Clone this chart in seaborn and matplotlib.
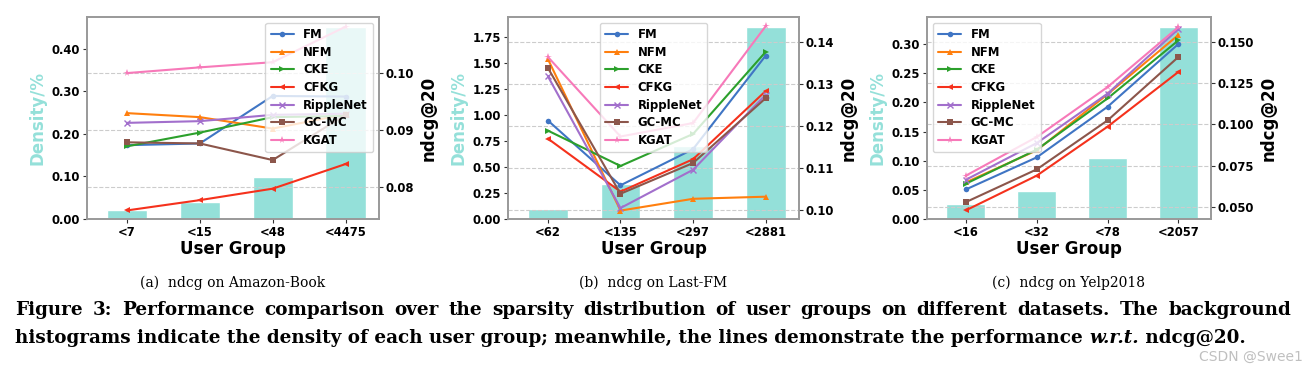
import numpy as np
import pandas as pd
import matplotlib
matplotlib.use("Agg")
import matplotlib.pyplot as plt
import seaborn as sns

# ---- data ----
models = ["FM", "NFM", "CKE", "CFKG", "RippleNet", "GC-MC", "KGAT"]

groups_amazon = ["<7", "<15", "<48", "<4475"]
density_amazon = [0.020, 0.040, 0.099, 0.452]
ndcg_amazon = {
    "FM": [0.0873, 0.0876, 0.0959, 0.0958],
    "NFM": [0.0929, 0.0922, 0.0902, 0.0927],
    "CKE": [0.0871, 0.0895, 0.0922, 0.0924],
    "CFKG": [0.0759, 0.0777, 0.0797, 0.0840],
    "RippleNet": [0.0912, 0.0915, 0.0926, 0.0928],
    "GC-MC": [0.0878, 0.0876, 0.0847, 0.0926],
    "KGAT": [0.0999, 0.1009, 0.1018, 0.1080],
}

groups_lastfm = ["<62", "<135", "<297", "<2881"]
density_lastfm = [0.096, 0.334, 0.700, 1.850]
ndcg_lastfm = {
    "FM": [0.1213, 0.1059, 0.1145, 0.1367],
    "NFM": [0.1359, 0.0999, 0.1027, 0.1032],
    "CKE": [0.1189, 0.1105, 0.1181, 0.1376],
    "CFKG": [0.1170, 0.1044, 0.1121, 0.1283],
    "RippleNet": [0.1318, 0.1005, 0.1096, 0.1274],
    "GC-MC": [0.1338, 0.1039, 0.1112, 0.1266],
    "KGAT": [0.1364, 0.1175, 0.1207, 0.1437],
}

groups_yelp = ["<16", "<32", "<78", "<2057"]
density_yelp = [0.026, 0.048, 0.1046, 0.329]
ndcg_yelp = {
    "FM": [0.0605, 0.0800, 0.1108, 0.1490],
    "NFM": [0.0648, 0.0843, 0.1184, 0.1545],
    "CKE": [0.0640, 0.0847, 0.1159, 0.1512],
    "CFKG": [0.0478, 0.0689, 0.0987, 0.1320],
    "RippleNet": [0.0664, 0.0887, 0.1188, 0.1581],
    "GC-MC": [0.0528, 0.0727, 0.1025, 0.1411],
    "KGAT": [0.0689, 0.0924, 0.1228, 0.1593],
}

colors = {"FM": "#3f75c4", "NFM": "#ff7f0e", "CKE": "#2ca02c", "CFKG": "#f5311c",
          "RippleNet": "#a26fcc", "GC-MC": "#8c564b", "KGAT": "#f779b9"}
markers = {"FM": "o", "NFM": "^", "CKE": ">", "CFKG": "<",
           "RippleNet": "x", "GC-MC": "s", "KGAT": "*"}
bar_color = "#94e0d9"
spine_color = "#999999"

sns.set_style("white")
plt.rcParams["font.family"] = ["DejaVu Sans"]
for key in ["text.color", "axes.labelcolor", "xtick.color", "ytick.color"]:
    plt.rcParams[key] = "black"

fig = plt.figure(figsize=(13.07, 3.66), dpi=100)

panels = [
    # groups, density, ndcg, x-extent, left ticks, left ylim, right ticks, right ylim, fmts, legend loc
    (groups_amazon, density_amazon, ndcg_amazon, [87, 379],
     np.arange(0, 0.41, 0.1), (0, 0.475), [0.08, 0.09, 0.10], (0.0744, 0.1097),
     "%.2f", "%.2f", "upper right"),
    (groups_lastfm, density_lastfm, ndcg_lastfm, [508, 799],
     np.arange(0, 1.76, 0.25), (0, 1.946), [0.10, 0.11, 0.12, 0.13, 0.14], (0.0979, 0.1459),
     "%.2f", "%.2f", "upper center"),
    (groups_yelp, density_yelp, ndcg_yelp, [927, 1211],
     np.arange(0, 0.31, 0.05), (0, 0.3463), [0.050, 0.075, 0.100, 0.125, 0.150], (0.0425, 0.1654),
     "%.2f", "%.3f", "upper left"),
]

W, H = 1307, 366
for groups, dens, ndcg, (x0, x1), lt, lyl, rt, ryl, lfmt, rfmt, loc in panels:
    ax = fig.add_axes([x0 / W, 1 - 219 / H, (x1 - x0) / W, 202 / H])
    sns.barplot(x=groups, y=dens, ax=ax, color=bar_color, width=0.55, saturation=1)
    ax.set_xlim(-0.55, 3.46)
    ax.set_ylim(*lyl)
    ax.set_yticks(lt)
    ax.yaxis.set_major_formatter(matplotlib.ticker.FormatStrFormatter(lfmt))
    ax.set_ylabel("Density/%", color=bar_color, fontsize=12, fontweight="bold", labelpad=4)
    ax.set_xlabel("User Group", fontsize=12, fontweight="bold", labelpad=1)

    ax2 = ax.twinx()
    pos = np.arange(len(groups))
    for m in models:
        sns.lineplot(x=pos, y=ndcg[m], ax=ax2, color=colors[m], marker=markers[m],
                     markersize=4 if markers[m] != "*" else 5.5,
                     markeredgewidth=1 if markers[m] == "x" else 0,
                     markeredgecolor=colors[m], linewidth=1.5, label=m)
    ax2.set_ylim(*ryl)
    ax2.set_yticks(rt)
    ax2.yaxis.set_major_formatter(matplotlib.ticker.FormatStrFormatter(rfmt))
    ax2.set_ylabel("ndcg@20", fontsize=12, fontweight="bold", labelpad=4)
    ax2.grid(axis="y", linestyle="--", color="#cccccc", linewidth=0.8)
    ax2.set_xlim(-0.55, 3.46)

    for a in (ax, ax2):
        for s in a.spines.values():
            s.set_color(spine_color)
            s.set_linewidth(1.2)
        a.tick_params(axis="both", labelsize=8.4, length=3, width=0.8, color="#333333", pad=2)
        for lab in a.get_xticklabels() + a.get_yticklabels():
            lab.set_fontweight("bold")
    ax.tick_params(axis="y", left=True)
    ax.tick_params(axis="x", bottom=True)

    leg = ax2.legend(loc=loc, prop={"weight": "bold", "size": 8.4}, framealpha=0.8,
                     handlelength=2.0, borderpad=0.45, labelspacing=0.4, handletextpad=0.8)
    leg.get_frame().set_edgecolor("#cccccc")

# sub captions
subcaps = ["(a)  ndcg on Amazon-Book", "(b)  ndcg on Last-FM", "(c)  ndcg on Yelp2018"]
for (x0, x1), t in zip([(87, 379), (508, 799), (927, 1211)], subcaps):
    fig.text((x0 + x1) / 2 / W, 1 - 283 / H, t, ha="center", va="center",
             fontsize=10, family="DejaVu Serif")

# main caption: second line fitted to reference width, first line justified
serif = "DejaVu Serif"
fig.canvas.draw()
r = fig.canvas.get_renderer()

pieces = [("histograms indicate the density of each user group; meanwhile, the lines "
           "demonstrate the performance ", "normal"), ("w.r.t.", "italic"), (" ndcg@20.", "normal")]
fs = 12.0
texts = [fig.text(0, 1 - 338 / H, p, fontsize=fs, family=serif, fontweight="bold",
                  style=s, va="center") for p, s in pieces]
total = sum(t.get_window_extent(r).width for t in texts)
fs = fs * (1240 - 15) / total
x = 15
for t in texts:
    t.set_fontsize(fs)
    t.set_x(x / W)
    x += t.get_window_extent(r).width

line1 = ("Figure 3: Performance comparison over the sparsity distribution of user groups "
         "on different datasets. The background").split()
words = [fig.text(0, 1 - 310 / H, w, fontsize=fs, family=serif, fontweight="bold", va="center")
         for w in line1]
widths = [t.get_window_extent(r).width for t in words]
gap = (1291 - 15 - sum(widths)) / (len(words) - 1)
x = 15
for t, w in zip(words, widths):
    t.set_x(x / W)
    x += w + gap

fig.text(1303 / W, 1 - 357 / H, "CSDN @Swee1", ha="right", va="center", fontsize=10,
         color="#b0b0b0", alpha=0.8)

fig.savefig("out.png", dpi=100)
